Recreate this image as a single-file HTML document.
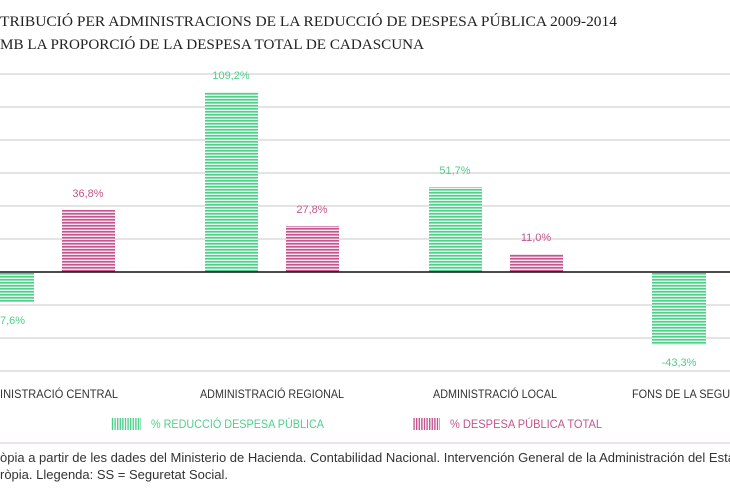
<!DOCTYPE html>
<html><head><meta charset="utf-8"><style>
body{margin:0;background:#fff;width:730px;height:500px;overflow:hidden}
svg{display:block}
.t{font-family:"Liberation Serif",serif;font-size:15px;fill:#222}
.c{font-family:"Liberation Sans",sans-serif;font-size:12px;fill:#333}
.g{font-family:"Liberation Sans",sans-serif;font-size:11px;fill:#4fcf8c}
.p{font-family:"Liberation Sans",sans-serif;font-size:11px;fill:#c4558f}
.f{font-family:"Liberation Sans",sans-serif;font-size:13px;fill:#333}
</style></head><body>
<svg width="730" height="500" xmlns="http://www.w3.org/2000/svg">
<defs>
<pattern id="gs" width="8" height="3" patternUnits="userSpaceOnUse"><rect width="8" height="3" fill="#e6f8ee"/><rect width="8" height="1.6" fill="#4fcf8c"/></pattern>
<pattern id="ps" width="8" height="3" patternUnits="userSpaceOnUse"><rect width="8" height="3" fill="#f6e3ee"/><rect width="8" height="1.6" fill="#c4558f"/></pattern>
<pattern id="gv" width="2.6" height="8" patternUnits="userSpaceOnUse"><rect width="1.4" height="8" fill="#4fcf8c"/></pattern>
<pattern id="pv" width="2.6" height="8" patternUnits="userSpaceOnUse"><rect width="1.4" height="8" fill="#c4558f"/></pattern>
</defs>
<text class="t" x="0" y="26" textLength="617" lengthAdjust="spacingAndGlyphs">TRIBUCIÓ PER ADMINISTRACIONS DE LA REDUCCIÓ DE DESPESA PÚBLICA 2009-2014</text>
<text class="t" x="0" y="49" textLength="424" lengthAdjust="spacingAndGlyphs">MB LA PROPORCIÓ DE LA DESPESA TOTAL DE CADASCUNA</text>
<g stroke="#c8c8c8" stroke-width="1">
<line x1="0" y1="74" x2="730" y2="74"/><line x1="0" y1="107" x2="730" y2="107"/>
<line x1="0" y1="140" x2="730" y2="140"/><line x1="0" y1="173" x2="730" y2="173"/>
<line x1="0" y1="206" x2="730" y2="206"/><line x1="0" y1="239" x2="730" y2="239"/>
<line x1="0" y1="305" x2="730" y2="305"/><line x1="0" y1="338" x2="730" y2="338"/>
<line x1="0" y1="371" x2="730" y2="371"/>
</g>
<rect x="0" y="273" width="34" height="29" fill="url(#gs)"/>
<rect x="62" y="210" width="53" height="62" fill="url(#ps)"/>
<rect x="205" y="92" width="53" height="180" fill="url(#gs)"/>
<rect x="286" y="226" width="53" height="46" fill="url(#ps)"/>
<rect x="429" y="187" width="53" height="85" fill="url(#gs)"/>
<rect x="510" y="254" width="53" height="18" fill="url(#ps)"/>
<rect x="652" y="273" width="54" height="72" fill="url(#gs)"/>
<line x1="0" y1="272" x2="730" y2="272" stroke="#111" stroke-width="1.5"/>
<text class="g" x="0" y="324">7,6%</text>
<text class="p" x="88" y="197" text-anchor="middle">36,8%</text>
<text class="g" x="231" y="79" text-anchor="middle">109,2%</text>
<text class="p" x="312" y="213" text-anchor="middle">27,8%</text>
<text class="g" x="455" y="174" text-anchor="middle">51,7%</text>
<text class="p" x="536" y="241" text-anchor="middle">11,0%</text>
<text class="g" x="679" y="366" text-anchor="middle">-43,3%</text>
<text class="c" x="0" y="398" textLength="118" lengthAdjust="spacingAndGlyphs">INISTRACIÓ CENTRAL</text>
<text class="c" x="200" y="398" textLength="144" lengthAdjust="spacingAndGlyphs">ADMINISTRACIÓ REGIONAL</text>
<text class="c" x="433" y="398" textLength="124" lengthAdjust="spacingAndGlyphs">ADMINISTRACIÓ LOCAL</text>
<text class="c" x="632" y="398" textLength="175" lengthAdjust="spacingAndGlyphs">FONS DE LA SEGURETAT SOCIAL</text>
<rect x="111" y="418" width="30" height="12" fill="url(#gv)"/>
<text class="g" x="151" y="428" style="font-size:12px" textLength="173" lengthAdjust="spacingAndGlyphs">% REDUCCIÓ DESPESA PÚBLICA</text>
<rect x="413" y="418" width="27" height="12" fill="url(#pv)"/>
<text class="p" x="450" y="428" style="font-size:12px" textLength="152" lengthAdjust="spacingAndGlyphs">% DESPESA PÚBLICA TOTAL</text>
<line x1="0" y1="443" x2="730" y2="443" stroke="#e3dbe6" stroke-width="1.5"/>
<text class="f" x="0" y="462">òpia a partir de les dades del Ministerio de Hacienda. Contabilidad Nacional. Intervención General de la Administración del Estado</text>
<text class="f" x="0" y="479">ròpia. Llegenda: SS = Seguretat Social.</text>
</svg>
</body></html>
